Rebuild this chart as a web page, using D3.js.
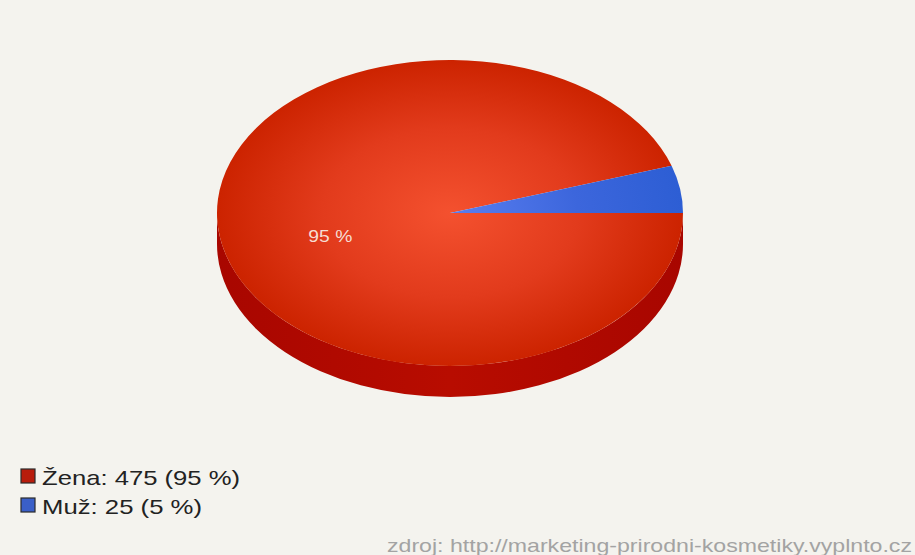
<!DOCTYPE html>
<html>
<head>
<meta charset="utf-8">
<script src="https://cdn.jsdelivr.net/npm/d3@7"></script>
<style>
  html, body { margin: 0; padding: 0; background: #f4f3ee; }
  svg { display: block; }
  text { font-family: "Liberation Sans", Arial, sans-serif; }
</style>
</head>
<body>
<svg id="chart" width="915" height="555"></svg>
<script>
const categories = ["Žena", "Muž"];
const values = [475, 25];
const topColors = [["#f4512f", "#e23b1c", "#cc2300"], ["#5a7ef0", "#3c66dc", "#2d5ed4"]];
const sideColors = ["#b30a00", "#2a4fb0"];
const legendColors = ["#b81c0c", "#3a5fc8"];
const sourceText = "zdroj: http://marketing-prirodni-kosmetiky.vyplnto.cz";

const W = 915, H = 555;
const cx = 450, cy = 213, rx = 233, ry = 153, depth = 31;

const svg = d3.select("#chart");
svg.append("rect").attr("width", W).attr("height", H).attr("fill", "#f4f3ee");

const total = d3.sum(values);
const pie = d3.pie().sort(null).value(d => d)
  .startAngle(Math.PI / 2).endAngle(Math.PI / 2 + 2 * Math.PI);
const arcs = pie(values);

// scales mapping unit circle to ellipse
const sx = d3.scaleLinear().domain([-1, 1]).range([cx - rx, cx + rx]);
const sy = d3.scaleLinear().domain([-1, 1]).range([cy + ry, cy - ry]);
const px = a => sx(Math.sin(a));
const py = (a, off = 0) => sy(Math.cos(a)) + off;

const defs = svg.append("defs");
topColors.forEach((cols, i) => {
  const g = defs.append("radialGradient")
    .attr("id", "top" + i)
    .attr("gradientUnits", "userSpaceOnUse")
    .attr("cx", cx).attr("cy", cy).attr("r", rx)
    .attr("gradientTransform", `translate(${cx},${cy}) scale(1,${ry / rx}) translate(${-cx},${-cy})`);
  g.append("stop").attr("offset", 0).attr("stop-color", cols[0]);
  g.append("stop").attr("offset", 0.55).attr("stop-color", cols[1]);
  g.append("stop").attr("offset", 1).attr("stop-color", cols[2]);
});
const sg = defs.append("linearGradient").attr("id", "side0").attr("x1", 0).attr("x2", 1).attr("y1", 0).attr("y2", 0);
sg.append("stop").attr("offset", 0).attr("stop-color", "#a80600");
sg.append("stop").attr("offset", 0.5).attr("stop-color", "#b80c00");
sg.append("stop").attr("offset", 1).attr("stop-color", "#a80600");

// sides (front half only: d3 angles between PI/2 and 3PI/2, modulo 2PI)
const g = svg.append("g");
arcs.forEach((d, i) => {
  const ranges = [];
  for (const shift of [0, 2 * Math.PI, -2 * Math.PI]) {
    const a0 = Math.max(d.startAngle + shift, Math.PI / 2);
    const a1 = Math.min(d.endAngle + shift, 3 * Math.PI / 2);
    if (a1 > a0 + 1e-6) ranges.push([a0, a1]);
  }
  ranges.forEach(([a0, a1]) => {
    const large = (a1 - a0) > Math.PI ? 1 : 0;
    const p = `M${px(a0)},${py(a0)} A${rx},${ry} 0 ${large} 1 ${px(a1)},${py(a1)} ` +
      `L${px(a1)},${py(a1, depth)} A${rx},${ry} 0 ${large} 0 ${px(a0)},${py(a0, depth)} Z`;
    g.append("path").attr("d", p).attr("fill", i === 0 ? "url(#side0)" : sideColors[i]);
  });
});

// top faces
arcs.forEach((d, i) => {
  const a0 = d.startAngle, a1 = d.endAngle;
  const large = (a1 - a0) > Math.PI ? 1 : 0;
  const p = `M${cx},${cy} L${px(a0)},${py(a0)} A${rx},${ry} 0 ${large} 1 ${px(a1)},${py(a1)} Z`;
  g.append("path").attr("d", p).attr("fill", `url(#top${i})`);
});

// slice label (only big one shown)
arcs.forEach((d, i) => {
  const pct = Math.round(d.data / total * 100);
  if (pct < 10) return;
  const mid = (d.startAngle + d.endAngle) / 2;
  const f = 0.52;
  const x = cx + (px(mid) - cx) * f;
  const y = cy + (py(mid) - cy) * f + 17;
  svg.append("text").attr("x", x).attr("y", y)
    .attr("text-anchor", "middle")
    .attr("font-size", 17)
    .attr("fill", "#f6ddd2")
    .attr("textLength", 44).attr("lengthAdjust", "spacingAndGlyphs")
    .text(`${pct} %`);
});

// legend
const legendLengths = [198, 160];
categories.forEach((c, i) => {
  const pct = Math.round(values[i] / total * 100);
  const y0 = 469 + i * 29;
  svg.append("rect").attr("x", 21).attr("y", y0).attr("width", 14).attr("height", 14)
    .attr("fill", legendColors[i]).attr("stroke", "#2a2a2a").attr("stroke-width", 1.2);
  svg.append("text").attr("x", 42).attr("y", y0 + 16)
    .attr("font-size", 21).attr("fill", "#222")
    .attr("textLength", legendLengths[i]).attr("lengthAdjust", "spacingAndGlyphs")
    .text(`${c}: ${values[i]} (${pct} %)`);
});

// source
svg.append("text").attr("x", 387).attr("y", 552)
  .attr("font-size", 19).attr("fill", "#a3a3a3")
  .attr("textLength", 525).attr("lengthAdjust", "spacingAndGlyphs")
  .text(sourceText);
</script>
</body>
</html>
